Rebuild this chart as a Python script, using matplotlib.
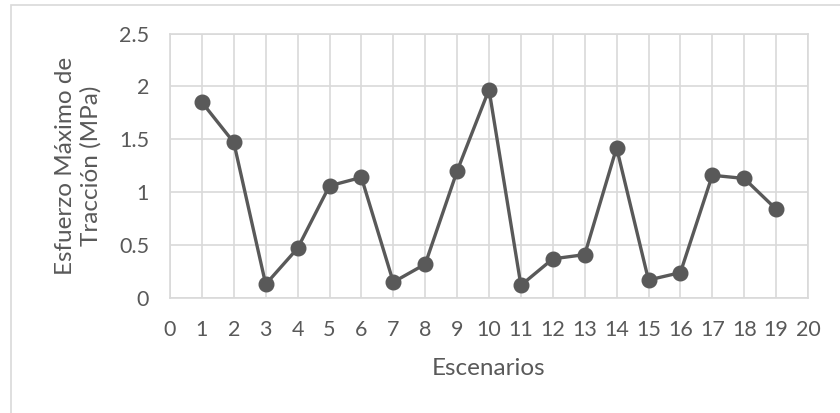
import matplotlib.pyplot as plt
from matplotlib.patches import Rectangle

escenarios = list(range(1, 20))
esfuerzo = [1.85, 1.47, 0.13, 0.47, 1.06, 1.14, 0.15, 0.32, 1.20, 1.97,
            0.12, 0.37, 0.41, 1.42, 0.17, 0.24, 1.16, 1.13, 0.84]
xticks = list(range(0, 21))
yticks = [0, 0.5, 1, 1.5, 2, 2.5]
ytick_labels = ['0', '0.5', '1', '1.5', '2', '2.5']

gris = '#595959'
rejilla = '#d9d9d9'
plt.rcParams['font.family'] = ['Lato', 'DejaVu Sans']

fig = plt.figure(figsize=(8.4, 4.13), dpi=100)
# marco del grafico (se sale por la derecha y por abajo)
fig.patches.append(Rectangle((11/840, -0.1), 1.0, 1.1 - 5/413, transform=fig.transFigure,
                             fill=False, edgecolor=rejilla, linewidth=1.2))
ax = fig.add_axes([170/840, 1 - 298/413, 638/840, 264.5/413])

ax.plot(escenarios, esfuerzo, color=gris, linewidth=2.4, marker='o',
        markersize=10.5, zorder=3, clip_on=False)

ax.set_xlim(0, 20)
ax.set_ylim(0, 2.5)
ax.set_xticks(xticks)
ax.set_yticks(yticks)
ax.set_yticklabels(ytick_labels)
ax.grid(True, color=rejilla, linewidth=1.2)
ax.set_axisbelow(True)
for s in ax.spines.values():
    s.set_color(rejilla)
    s.set_linewidth(1.2)
ax.tick_params(length=0, labelsize=15.5, colors=gris)
ax.tick_params(axis='y', pad=15)
ax.tick_params(axis='x', pad=16)
ax.set_xlabel('Escenarios', fontsize=17.5, color=gris)
ax.set_ylabel('Esfuerzo Máximo de\nTracción (MPa)', fontsize=17.5, color=gris,
              linespacing=1.25)
ax.xaxis.set_label_coords(0.5, -0.267, transform=ax.transAxes)
ax.yaxis.set_label_coords(-0.144, 0.5, transform=ax.transAxes)
ax.xaxis.label.set_va('center')
ax.yaxis.label.set_va('center')

fig.savefig('out.png', dpi=100)
